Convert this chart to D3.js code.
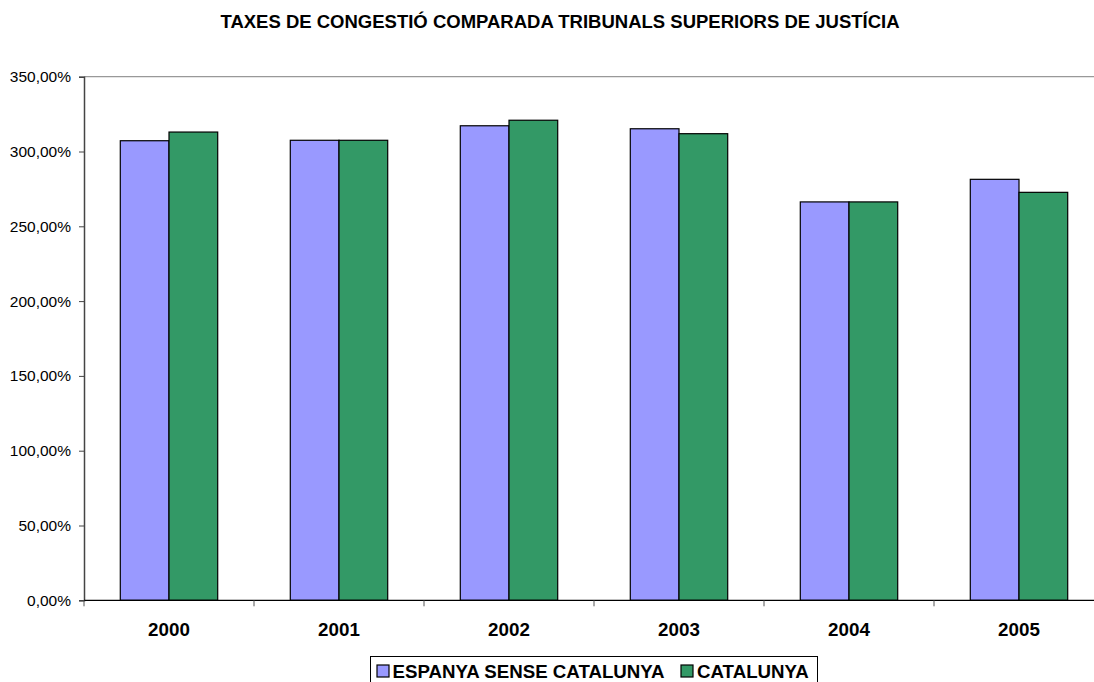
<!DOCTYPE html>
<html><head><meta charset="utf-8">
<script src="https://cdn.jsdelivr.net/npm/d3@7"></script>
<style>body{margin:0;background:#fff;overflow:hidden}svg{display:block}</style>
</head><body>
<svg id="c" width="1094" height="682"></svg>
<script>
const title = "TAXES DE CONGESTIÓ COMPARADA TRIBUNALS SUPERIORS DE JUSTÍCIA";
const years = ["2000","2001","2002","2003","2004","2005"];
const seriesNames = ["ESPANYA SENSE CATALUNYA","CATALUNYA"];
const espanya = [307.2, 307.5, 317.2, 315.2, 266.3, 281.4];
const catalunya = [313.0, 307.5, 320.9, 311.9, 266.3, 272.7];
const yTicks = [0,50,100,150,200,250,300,350];
const colors = ["#9999FF","#339966"];

const svg = d3.select("#c");
const L = 84, R = 1104, T = 76.7, B = 600.3;
const font = "'Liberation Sans', Arial, sans-serif";

svg.append("text").attr("x", 560).attr("y", 27.5).attr("text-anchor","middle")
  .attr("font-family", font).attr("font-weight","bold").attr("font-size", 18.5).text(title);

const x0 = d3.scaleBand().domain(years).range([L,R]).paddingInner(0.427).paddingOuter(0.2135);
const x1 = d3.scaleBand().domain(seriesNames).range([0, x0.bandwidth()]);
const y = d3.scaleLinear().domain([0,350]).range([B,T]);

// top border
svg.append("line").attr("x1",L).attr("x2",R).attr("y1",y(350)).attr("y2",y(350))
  .attr("stroke","#999").attr("stroke-width",1.2);

const data = years.map((yr,i)=>({yr, vals:[espanya[i], catalunya[i]]}));
const g = svg.append("g");
data.forEach(d=>{
  d.vals.forEach((v,j)=>{
    g.append("rect")
      .attr("x", x0(d.yr)+x1(seriesNames[j]))
      .attr("y", y(v))
      .attr("width", x1.bandwidth())
      .attr("height", y(0)-y(v))
      .attr("fill", colors[j]).attr("stroke","#000").attr("stroke-width",1.2);
  });
});

// y axis
const yAxis = d3.axisLeft(y).tickValues(yTicks).tickSize(5).tickPadding(8)
  .tickFormat(d=>d3.format(".2f")(d).replace(".",",")+"%");
const ya = svg.append("g").attr("transform",`translate(${L},0)`).call(yAxis);
ya.select(".domain").attr("stroke","#444").attr("stroke-width",1.5);
ya.selectAll(".tick line").attr("stroke","#444");
ya.selectAll("text").attr("font-family",font).attr("font-size",15.5).attr("fill","#000");

// x axis
const xa = svg.append("g").attr("transform",`translate(0,${B})`);
xa.append("line").attr("x1",L).attr("x2",R).attr("stroke","#000").attr("stroke-width",1.2);
const bounds = d3.range(years.length+1).map(i=> L + i*x0.step());
xa.selectAll("line.tk").data(bounds).join("line").attr("class","tk")
  .attr("x1",d=>d).attr("x2",d=>d).attr("y1",0).attr("y2",6).attr("stroke","#555");
xa.selectAll("text").data(years).join("text")
  .attr("x", d=>x0(d)+x0.bandwidth()/2).attr("y", 35.5)
  .attr("text-anchor","middle").attr("font-family",font).attr("font-weight","bold")
  .attr("font-size",18.8).text(d=>d);

// legend
const lg = svg.append("g");
lg.append("rect").attr("x",370.5).attr("y",656.5).attr("width",447).attr("height",30)
  .attr("fill","#fff").attr("stroke","#000").attr("stroke-width",1);
const items = [{x:377, tx:392.5},{x:681, tx:697}];
items.forEach((it,j)=>{
  lg.append("rect").attr("x",it.x).attr("y",665).attr("width",12).attr("height",12)
    .attr("fill",colors[j]).attr("stroke","#000").attr("stroke-width",1.2);
  lg.append("text").attr("x",it.tx).attr("y",677.5).attr("font-family",font)
    .attr("font-weight","bold").attr("font-size",18.7).text(seriesNames[j]);
});
</script>
</body></html>
